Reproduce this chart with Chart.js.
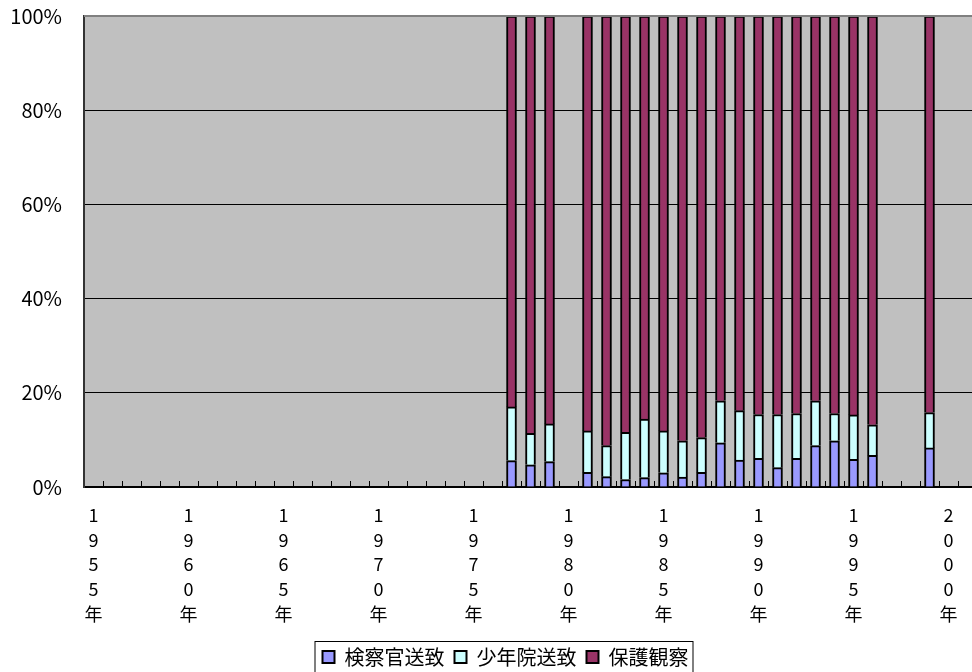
<!DOCTYPE html>
<html>
<head>
<meta charset="utf-8">
<script src="https://cdn.jsdelivr.net/npm/chart.js@4/dist/chart.umd.min.js"></script>
<style>
  html,body{margin:0;padding:0;background:#fff;overflow:hidden}
  canvas{display:block}
</style>
</head>
<body>
<canvas id="chart" width="1007" height="677"></canvas>
<script>
// categories (one per year, the chart runs past the right edge of the picture)
const years = [1955,1956,1957,1958,1959,1960,1961,1962,1963,1964,1965,1966,1967,1968,1969,
  1970,1971,1972,1973,1974,1975,1976,1977,1978,1979,1980,1981,1982,1983,1984,1985,1986,
  1987,1988,1989,1990,1991,1992,1993,1994,1995,1996,1997,1998,1999,2000,2001];
const labeledYears = [1955,1960,1965,1970,1975,1980,1985,1990,1995,2000];
const yTicks = [0,20,40,60,80,100];

// years that have data, and the share (%) of each disposal
const dataYears = [1977,1978,1979,1981,1982,1983,1984,1985,1986,1987,1988,1989,1990,1991,1992,1993,1994,1995,1996,1999];
const kensatsu  = [5.6,4.7,5.4,3.1,2.2,1.6,2.0,3.0,2.1,3.1,9.4,5.7,6.1,4.1,6.1,8.8,9.8,5.9,6.7,8.3];
const shonenin  = [11.4,6.7,8.0,8.8,6.6,10.0,12.4,8.9,7.7,7.4,8.9,10.5,9.3,11.3,9.5,9.5,5.8,9.4,6.5,7.5];
const hogo      = [83.0,88.6,86.6,88.1,91.2,88.4,85.6,88.1,90.2,89.5,81.7,83.8,84.6,84.6,84.4,81.7,84.4,84.7,86.8,84.2];
const seriesNames = ['検察官送致','少年院送致','保護観察'];
const seriesColors = ['#9999FF','#CCFFFF','#993366'];

function spread(vals){
  return years.map(y=>{ const i = dataYears.indexOf(y); return i<0 ? null : vals[i]; });
}

const FONT = '"Noto Sans CJK JP","Liberation Sans",sans-serif';

const plotBg = {
  id:'plotBg',
  afterLayout(chart){
    // legend sits a little right of the plot centre in the original
    chart.legend.left += 12; chart.legend.right += 12;
  },
  beforeDraw(chart){
    const {ctx, chartArea:a} = chart;
    ctx.save();
    ctx.fillStyle = '#C0C0C0';
    ctx.fillRect(a.left, a.top, a.right-a.left, a.bottom-a.top);
    ctx.restore();
  },
  afterDraw(chart){
    const {ctx, chartArea:a} = chart;
    const xs = chart.scales.x;
    ctx.save();
    // top frame
    ctx.strokeStyle = '#808080'; ctx.lineWidth = 2;
    ctx.beginPath(); ctx.moveTo(a.left, a.top); ctx.lineTo(a.right, a.top); ctx.stroke();
    // small inward tick marks between categories
    ctx.strokeStyle = '#000'; ctx.lineWidth = 1;
    for(let i=0;i<years.length;i++){
      const x = Math.round((xs.getPixelForValue(i)+xs.getPixelForValue(i+1))/2)+0.5;
      ctx.beginPath(); ctx.moveTo(x, a.bottom); ctx.lineTo(x, a.bottom-6); ctx.stroke();
    }
    // frame round the legend
    const boxes = chart.legend.legendHitBoxes;
    if(boxes && boxes.length){
      const l = Math.min(...boxes.map(b=>b.left)) - 8;
      const r = Math.max(...boxes.map(b=>b.left+b.width)) + 4;
      const t = Math.min(...boxes.map(b=>b.top)) - 6;
      ctx.lineWidth = 1;
      ctx.strokeRect(l+0.5, t+0.5, r-l, 60);
    }
    ctx.restore();
  }
};

new Chart(document.getElementById('chart'), {
  type:'bar',
  data:{
    labels: years,
    datasets: seriesNames.map((n,k)=>({
      label:n,
      data: spread([kensatsu,shonenin,hogo][k]),
      backgroundColor: seriesColors[k],
      borderColor:'#000',
      borderWidth:2,
      barThickness:10
    }))
  },
  options:{
    responsive:false,
    animation:false,
    layout:{ padding:{ left:10, right:30, top:16, bottom:0 } },
    plugins:{
      tooltip:{enabled:false},
      legend:{
        position:'bottom',
        labels:{ boxWidth:12, boxHeight:12, padding:10, color:'#000', font:{ family:FONT, size:20 } }
      }
    },
    scales:{
      x:{
        stacked:true,
        grid:{ display:false },
        border:{ display:true, color:'#000', width:2 },
        afterFit(s){ s.height = 150; s.paddingLeft = 0; s.paddingRight = 0; },
        ticks:{
          autoSkip:false, maxRotation:0, minRotation:0, color:'#000', padding:8,
          font:{ family:FONT, size:18, lineHeight:1.37 },
          callback(v,i){ const y = years[i]; return labeledYears.includes(y) ? String(y).split('').concat('年') : ''; }
        }
      },
      y:{
        stacked:true, min:0, max:100,
        afterFit(s){ s.width = 74; s.paddingTop = 0; s.paddingBottom = 0; },
        afterBuildTicks(s){ s.ticks = yTicks.map(v=>({value:v})); },
        grid:{ color:'#000', lineWidth:1, drawTicks:false },
        border:{ display:true, color:'#333', width:2 },
        ticks:{ color:'#000', padding:22, font:{ family:FONT, size:20 }, callback:v=>v+'%' }
      }
    }
  },
  plugins:[plotBg]
});
</script>
</body>
</html>
